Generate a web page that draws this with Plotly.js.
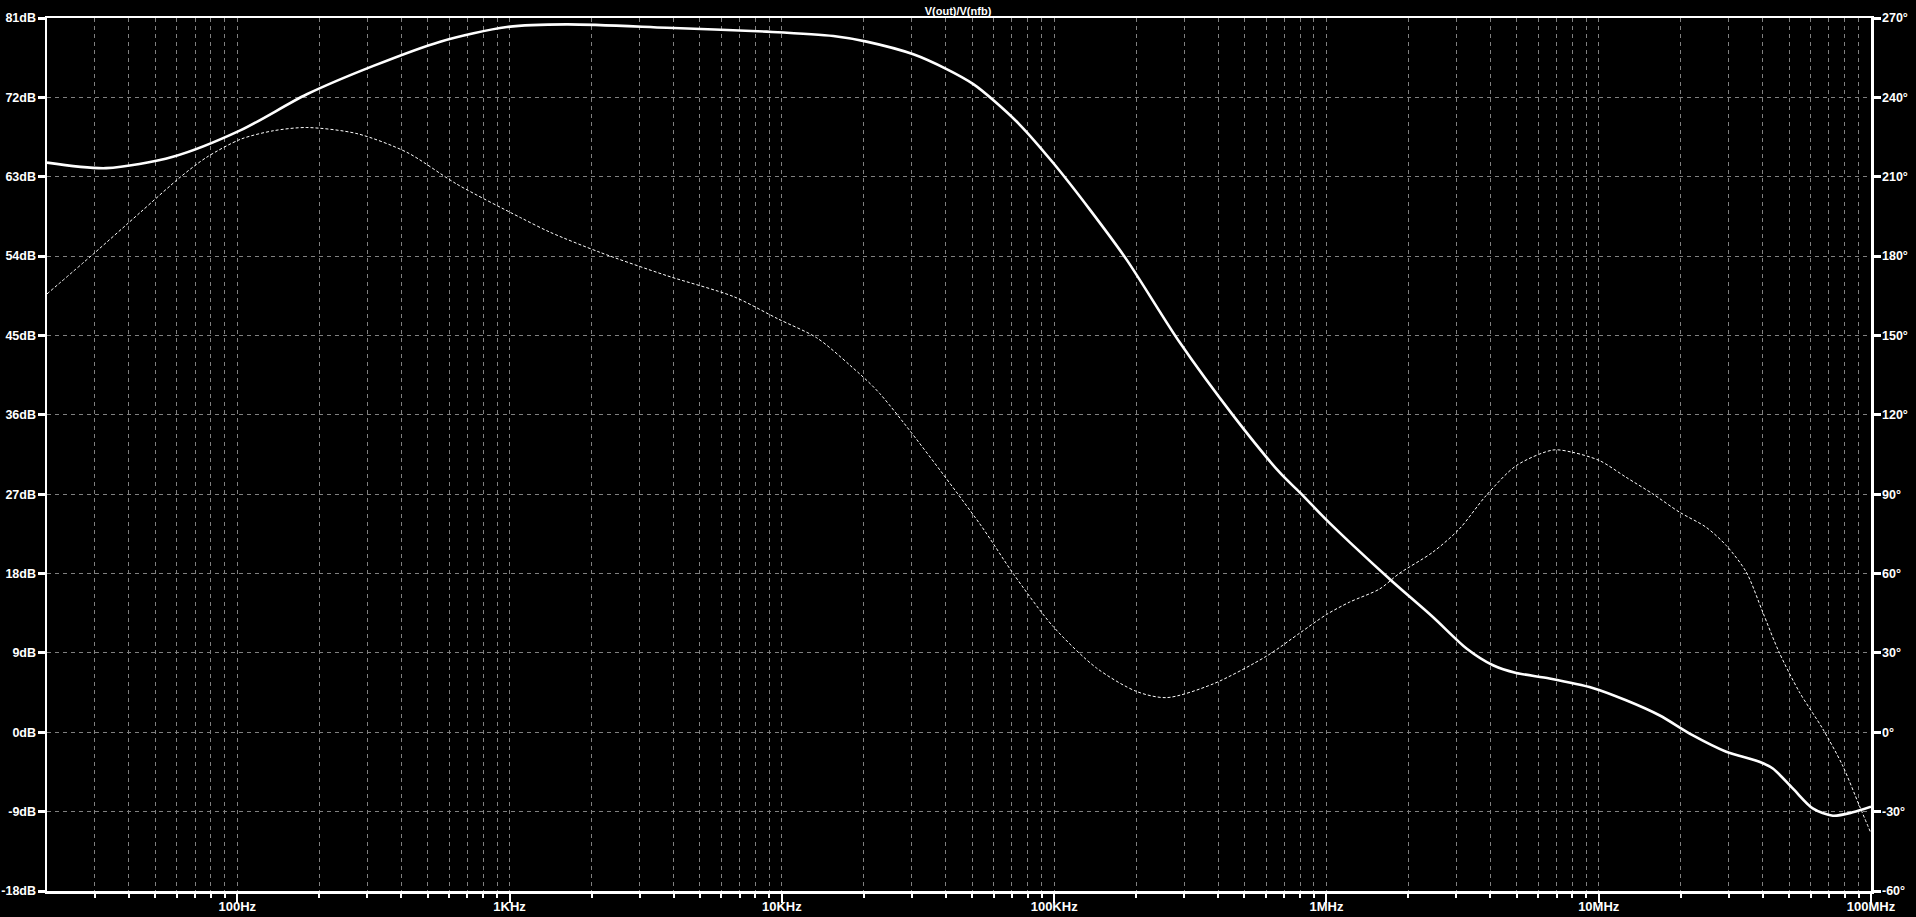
<!DOCTYPE html>
<html>
<head>
<meta charset="utf-8">
<script src="https://cdn.plot.ly/plotly-3.0.1.min.js"></script>
<style>
html,body{margin:0;padding:0;background:#000;}
#chart{width:1916px;height:917px;}
</style>
</head>
<body>
<div id="chart"></div>
<script>
// ---- data ----
const magFreq = [20,33,58,103,180,316,556,977,1620,3780,8790,15450,20460,30400,40270,50470,59700,74800,99100,135000,184500,289000,454000,674500,798000,1000000,1216000,1754000,2460000,3270000,4090000,4980000,6600000,9500000,12600000,16700000,22100000,29400000,38900000,43600000,51600000,61100000,72400000,85700000,100000000];
const magDb = [64.6,63.97,65.26,68.28,72.35,75.57,78.32,79.98,80.28,79.9,79.45,78.96,78.32,76.88,75.2,73.5,71.7,68.89,64.58,59.3,53.6,44.22,35.94,29.44,27.2,24.08,21.56,17.04,13.07,9.5,7.6,6.73,6.1,5.03,3.63,1.93,-0.33,-2.21,-3.34,-4.1,-6.37,-8.63,-9.46,-9.08,-8.44];

const phFreq = [20,29.6,44,62,77,103,136,180,275,420,640,1094,1410,2150,3780,6640,9660,13430,17800,22900,53300,70600,99100,143000,201000,259000,384000,603000,798000,1000000,1216000,1570000,1850000,2460000,3080000,3860000,4980000,6790000,8040000,10070000,12600000,15800000,19800000,24800000,29400000,34800000,40000000,45900000,54500000,66400000,78500000,90400000,100000000];
const phDeg = [165.7,180.8,196.5,210,217.3,224.2,227.4,228.6,226.3,219.2,207.2,194.6,189,181.4,172.6,164.7,156.3,149.1,138.7,128,78.8,60.1,40,24.3,15.4,13.1,18.3,28.8,37.5,44.5,49.2,54.2,60,68.1,76.9,89.5,100.8,106.7,105.8,102.7,96.4,90.1,83.2,77.5,70.6,60.6,45.5,30.4,15.3,1.4,-12.4,-27.5,-38.2];

const xTickVals = [100,1000,10000,100000,1000000,10000000,100000000];
const xTickText = ["100Hz","1KHz","10KHz","100KHz","1MHz","10MHz","100MHz"];
const dbTicks = [-18,-9,0,9,18,27,36,45,54,63,72,81];
const degTicks = [-60,-30,0,30,60,90,120,150,180,210,240,270];
const chartTitle = "V(out)/V(nfb)";

// minor (2..9 per decade) tick positions for the log axis
const minorVals = [];
for (let d = 1; d <= 7; d++) {
  for (let k = 2; k <= 9; k++) {
    const v = k * Math.pow(10, d);
    if (v > 20 && v < 1e8) minorVals.push(v);
  }
}

const gridCol = '#808080';
const fontSpec = {family: 'Liberation Sans, Arial, sans-serif', size: 13, color: '#ffffff', weight: 'bold'};
const yFontSpec = {family: 'Liberation Sans, Arial, sans-serif', size: 12.5, color: '#ffffff', weight: 'bold'};

const traces = [
  {
    x: phFreq, y: phDeg, yaxis: 'y2', type: 'scatter', mode: 'lines',
    line: {color: '#ffffff', width: 1, dash: '3px,2px', shape: 'spline', smoothing: 0.8},
    hoverinfo: 'skip', showlegend: false
  },
  {
    x: magFreq, y: magDb, type: 'scatter', mode: 'lines',
    line: {color: '#ffffff', width: 2.6, shape: 'spline', smoothing: 0.8},
    hoverinfo: 'skip', showlegend: false
  }
];

const layout = {
  width: 1916, height: 917,
  paper_bgcolor: '#000000', plot_bgcolor: '#000000',
  margin: {l: 47, r: 45, t: 18, b: 26, autoexpand: false},
  font: fontSpec,
  showlegend: false,
  title: {text: chartTitle, x: 0.5, xanchor: 'center', y: 0.992, yanchor: 'top',
          font: {family: 'Liberation Sans, Arial, sans-serif', size: 11, color: '#ffffff', weight: 'bold'}},
  xaxis: {
    type: 'log', range: [Math.log10(20), 8],
    tickmode: 'array', tickvals: xTickVals, ticktext: xTickText,
    ticks: 'outside', ticklen: 9, tickwidth: 2, tickcolor: '#ffffff',
    ticklabelstandoff: -7,
    showline: true, linecolor: '#ffffff', linewidth: 2.5, mirror: true,
    showgrid: true, gridcolor: gridCol, griddash: '4px,4px', gridwidth: 1,
    zeroline: false,
    tickfont: fontSpec,
    minor: {tickmode: 'array', tickvals: minorVals, ticks: 'outside', ticklen: 4, tickwidth: 2, tickcolor: '#ffffff',
            showgrid: true, gridcolor: gridCol, griddash: '4px,4px', gridwidth: 1}
  },
  yaxis: {
    range: [-18, 81],
    tickmode: 'array', tickvals: dbTicks, ticktext: dbTicks.map(v => String(v) + 'dB'),
    ticks: 'outside', ticklen: 7, tickwidth: 3, tickcolor: '#ffffff',
    ticklabelstandoff: -1,
    showline: true, linecolor: '#ffffff', linewidth: 2.5,
    showgrid: true, gridcolor: gridCol, griddash: '4px,4px', gridwidth: 1,
    zeroline: false, tickfont: yFontSpec
  },
  yaxis2: {
    range: [-60, 270], overlaying: 'y', side: 'right',
    tickmode: 'array', tickvals: degTicks, ticktext: degTicks.map(v => String(v) + '°'),
    ticks: 'outside', ticklen: 7, tickwidth: 3, tickcolor: '#ffffff',
    ticklabelstandoff: -1,
    showline: true, linecolor: '#ffffff', linewidth: 2.5,
    showgrid: false, zeroline: false, tickfont: yFontSpec
  }
};

Plotly.newPlot('chart', traces, layout, {displayModeBar: false, staticPlot: true});
</script>
</body>
</html>
